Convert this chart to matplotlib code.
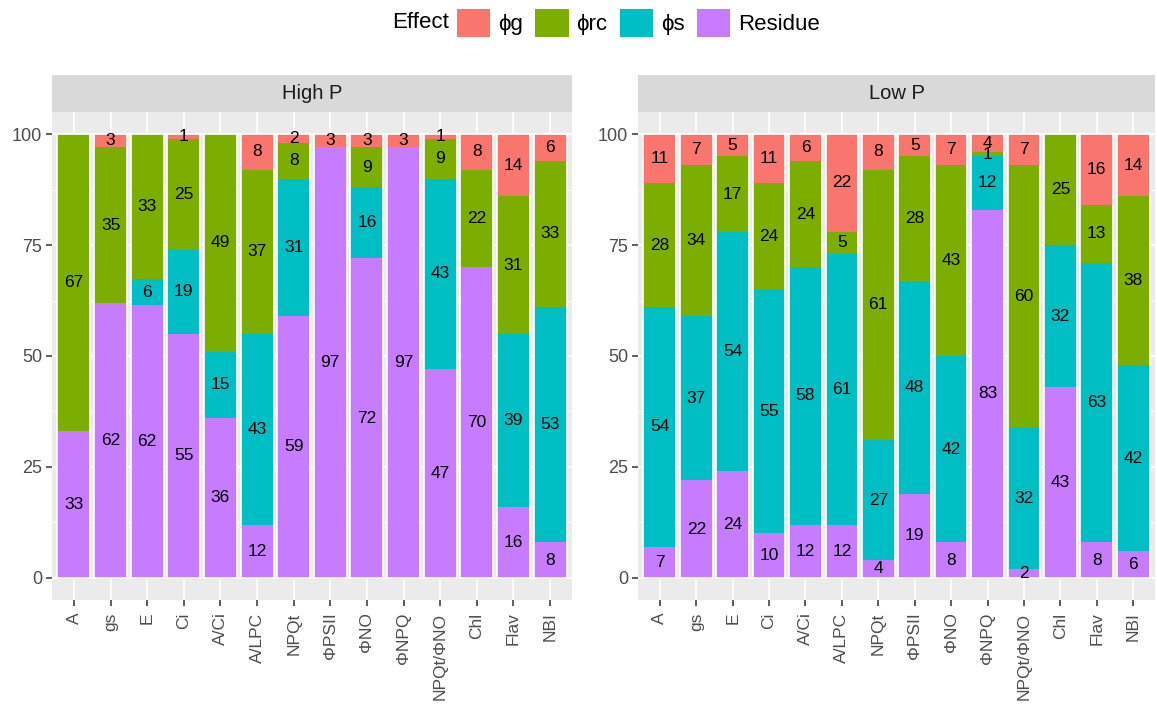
import numpy as np
import matplotlib.pyplot as plt
from matplotlib.patches import Patch

plt.rcParams['font.family'] = ['Liberation Sans', 'DejaVu Sans']

traits = ['A', 'gs', 'E', 'Ci', 'A/Ci', 'A/LPC', 'NPQt', 'ΦPSII', 'ΦNO',
          'ΦNPQ', 'NPQt/ΦNO', 'Chl', 'Flav', 'NBI']
effects = ['Residue', 'ϕs', 'ϕrc', 'ϕg']      # stacking order, bottom to top
legend_order = ['ϕg', 'ϕrc', 'ϕs', 'Residue']
colors = {'ϕg': '#F8766D', 'ϕrc': '#7CAE00', 'ϕs': '#00BFC4', 'Residue': '#C77CFF'}

# percent contribution of each effect, High P
high_residue = [33, 62, 62, 55, 36, 12, 59, 97, 72, 97, 47, 70, 16, 8]
high_phis = [0, 0, 6, 19, 15, 43, 31, 0, 16, 0, 43, 0, 39, 53]
high_phirc = [67, 35, 33, 25, 49, 37, 8, 0, 9, 0, 9, 22, 31, 33]
high_phig = [0, 3, 0, 1, 0, 8, 2, 3, 3, 3, 1, 8, 14, 6]

# percent contribution of each effect, Low P
low_residue = [7, 22, 24, 10, 12, 12, 4, 19, 8, 83, 2, 43, 8, 6]
low_phis = [54, 37, 54, 55, 58, 61, 27, 48, 42, 12, 32, 32, 63, 42]
low_phirc = [28, 34, 17, 24, 24, 5, 61, 28, 43, 1, 60, 25, 13, 38]
low_phig = [11, 7, 5, 11, 6, 22, 8, 5, 7, 4, 7, 0, 16, 14]

panels = [
    ('High P', [high_residue, high_phis, high_phirc, high_phig]),
    ('Low P', [low_residue, low_phis, low_phirc, low_phig]),
]

W, H = 1157, 707
fig = plt.figure(figsize=(W / 100, H / 100), dpi=100)

def frac(x0, y0, x1, y1):
    return [x0 / W, 1 - y1 / H, (x1 - x0) / W, (y1 - y0) / H]

panel_px = [(52, 572), (638, 1155)]
x = np.arange(1, len(traits) + 1)

for (title, series), (px0, px1) in zip(panels, panel_px):
    ax = fig.add_axes(frac(px0, 112, px1, 600))
    ax.set_facecolor('#EBEBEB')
    ax.set_axisbelow(True)

    data = np.array(series, dtype=float)
    # fill position: every bar scaled to a total of 100
    shares = data / data.sum(axis=0) * 100

    bottom = np.zeros(len(traits))
    for name, vals, h in zip(effects, data, shares):
        ax.bar(x, h, bottom=bottom, width=0.9, color=colors[name], linewidth=0)
        for xi, b, hh, v in zip(x, bottom, h, vals):
            if v >= 1:
                ax.text(xi, b + hh / 2, f'{int(v)}', ha='center', va='center',
                        fontsize=12.5, color='black')
        bottom += h
    # white outline around each full bar
    ax.bar(x, bottom, width=0.9, fill=False, edgecolor='white', linewidth=1.2)

    ax.set_xlim(0.4, len(traits) + 0.6)
    ax.set_ylim(-5, 105)
    ax.set_yticks([0, 25, 50, 75, 100])
    ax.set_yticks([12.5, 37.5, 62.5, 87.5], minor=True)
    ax.set_xticks(x)
    ax.set_xticklabels(traits, rotation=90, ha='center', va='top')
    ax.grid(which='major', color='white', linewidth=1.2)
    ax.grid(which='minor', axis='y', color='white', linewidth=0.6)
    ax.tick_params(which='major', length=4, width=1.1, color='#333333',
                   labelcolor='#4D4D4D', pad=3)
    ax.tick_params(axis='y', which='major', labelsize=13)
    ax.tick_params(axis='x', which='major', labelsize=12.5, pad=5)
    ax.tick_params(which='minor', length=0)
    for s in ax.spines.values():
        s.set_visible(False)

    strip = fig.add_axes(frac(px0, 75, px1, 112))
    strip.set_facecolor('#D9D9D9')
    strip.set_xticks([])
    strip.set_yticks([])
    for s in strip.spines.values():
        s.set_visible(False)
    strip.text(0.5, 0.5, title, ha='center', va='center', fontsize=14.5,
               color='#1A1A1A', transform=strip.transAxes)

handles = [Patch(facecolor=colors[k], edgecolor='none') for k in legend_order]
fig.legend(handles, legend_order, loc='center left', bbox_to_anchor=(457 / W, 1 - 23 / H),
           ncol=4, frameon=False, fontsize=16, handlelength=1.5, handleheight=1.5,
           handletextpad=0.35, columnspacing=0.55, borderpad=0, borderaxespad=0)
fig.text(449 / W, 1 - 23 / H, 'Effect', ha='right', va='center', fontsize=16)

fig.savefig('out.png', dpi=100)
